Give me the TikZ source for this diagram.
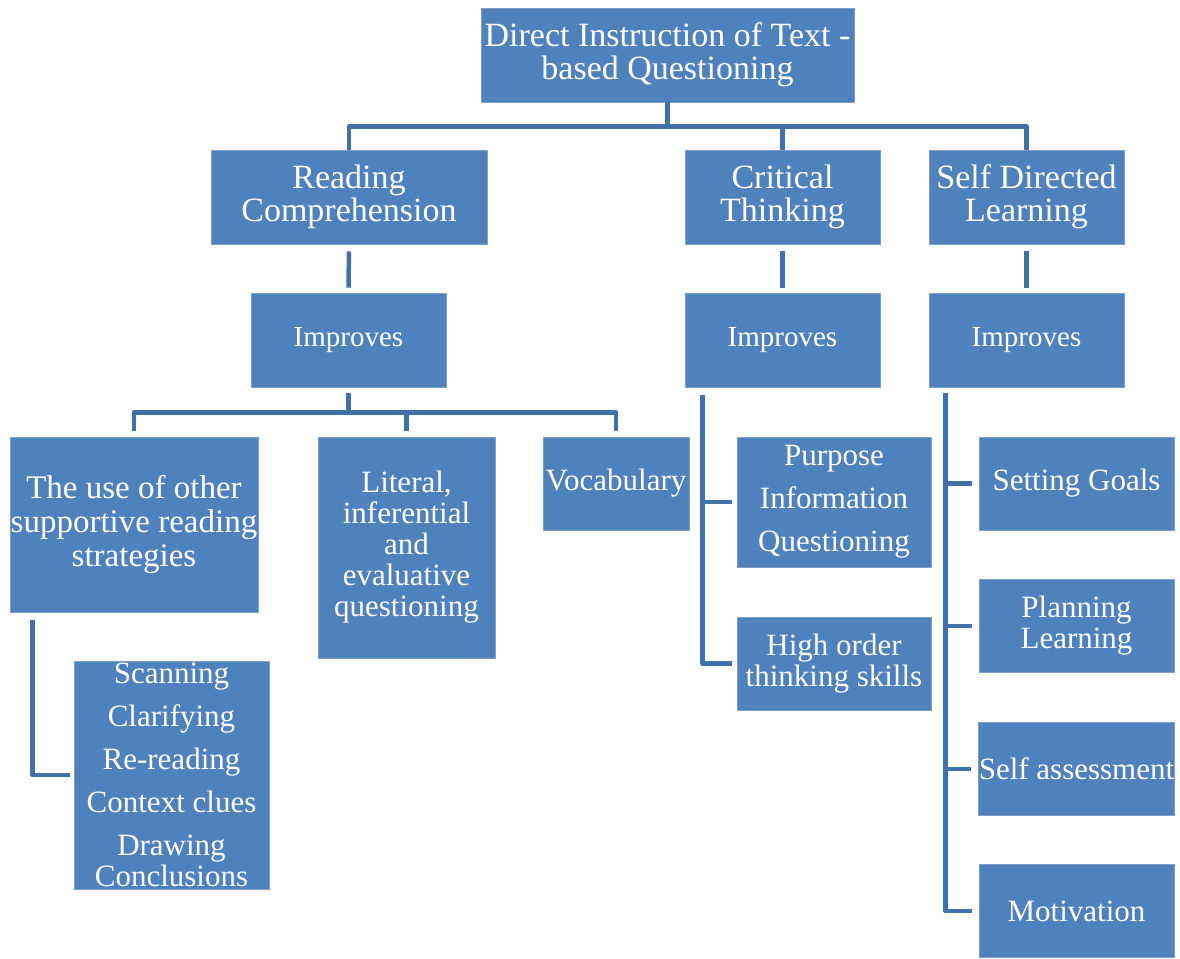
\documentclass[tikz,border=0pt]{standalone}
\usepackage{fontspec}
\setmainfont{Liberation Serif}
\definecolor{boxblue}{RGB}{79,129,189}
\definecolor{boxedge}{RGB}{125,160,205}
\definecolor{linkblue}{RGB}{66,112,168}
\tikzset{
  box/.style={rectangle, fill=boxblue, draw=boxedge, line width=0.8pt, text=white, align=center, inner sep=0pt},
  big/.style={font=\fontsize{34}{33}\selectfont},
  mid/.style={font=\fontsize{31}{31}\selectfont},
  small/.style={font=\fontsize{29}{29}\selectfont},
  link/.style={draw=linkblue, line width=4.5pt, line join=round}
}
\begin{document}
\begin{tikzpicture}[x=1pt,y=-1pt]
\useasboundingbox (0,0) rectangle (1180,958);
% level 0
\node[box,big,minimum width=373pt,minimum height=94pt] (top) at (667.5,55) {Direct Instruction of Text -\\based Questioning};
% level 1
\node[box,big,minimum width=276pt,minimum height=94pt] (rc) at (349,197) {Reading\\Comprehension};
\node[box,big,minimum width=195pt,minimum height=94pt] (ct) at (782.5,197) {Critical\\Thinking};
\node[box,big,minimum width=195pt,minimum height=94pt] (sdl) at (1026.5,197) {Self Directed\\Learning};
% improves
\node[box,small,minimum width=195pt,minimum height=94pt] (rcimp) at (348.5,340) {Improves};
\node[box,small,minimum width=195pt,minimum height=94pt] (ctimp) at (782.5,340) {Improves};
\node[box,small,minimum width=195pt,minimum height=94pt] (sdlimp) at (1026.5,340) {Improves};
% RC children
\node[box,minimum width=248pt,minimum height=175pt,font=\fontsize{33}{34}\selectfont] (use) at (134,524.5) {The use of other\\supportive reading\\strategies};
\node[box,mid,minimum width=177pt,minimum height=221pt] (lit) at (406.5,547.5) {Literal,\\inferential\\and\\evaluative\\questioning};
\node[box,mid,minimum width=146pt,minimum height=93pt] (voc) at (616,483.5) {Vocabulary};
\node[box,mid,minimum width=195pt,minimum height=228pt] (scan) at (171.5,775) {Scanning\\[12pt]Clarifying\\[12pt]Re-reading\\[12pt]Context clues\\[12pt]Drawing\\Conclusions};
% CT children
\node[box,mid,minimum width=194pt,minimum height=130pt] (purp) at (834,502) {Purpose\\[12pt]Information\\[12pt]Questioning};
\node[box,mid,minimum width=194pt,minimum height=93pt] (high) at (834,663.5) {High order\\thinking skills};
% SDL children
\node[box,mid,minimum width=195pt,minimum height=93pt] (sg) at (1076.5,483.5) {Setting Goals};
\node[box,mid,minimum width=195pt,minimum height=93pt] (pl) at (1076.5,626) {Planning\\Learning};
\node[box,mid,minimum width=195pt,minimum height=93pt] (sa) at (1076.5,769) {Self assessment};
\node[box,mid,minimum width=195pt,minimum height=93pt] (mo) at (1076.5,911) {Motivation};
% connectors
\draw[link] (top.south) -- ++(0,24) -| (rc.north);
\draw[link] (top.south) -- ++(0,24) -| (ct.north);
\draw[link] (top.south) -- ++(0,24) -| (sdl.north);
\draw[link,shorten <=7pt,shorten >=5pt] (rc.south) -- (rcimp.north);
\draw[link,shorten <=7pt,shorten >=5pt] (ct.south) -- (ctimp.north);
\draw[link,shorten <=7pt,shorten >=5pt] (sdl.south) -- (sdlimp.north);
\draw[link] ([yshift=-6pt]rcimp.south) -- ++(0,19) -| ([yshift=6pt]use.north);
\draw[link] ([yshift=-6pt]rcimp.south) -- ++(0,19) -| ([yshift=6pt]lit.north);
\draw[link] ([yshift=-6pt]rcimp.south) -- ++(0,19) -| ([yshift=6pt]voc.north);
\draw[link] ([xshift=23pt,yshift=-8pt]use.south west) |- ([xshift=-4pt]scan.west);
\draw[link] ([xshift=18pt,yshift=-8pt]ctimp.south west) |- ([xshift=-5pt]high.west);
\draw[link] ([xshift=18pt,yshift=-8pt]ctimp.south west) |- ([xshift=-5pt]purp.west);
\draw[link] ([xshift=17pt,yshift=-6pt]sdlimp.south west) |- ([xshift=-7pt]mo.west);
\draw[link] ([xshift=17pt,yshift=-6pt]sdlimp.south west) |- ([xshift=-7pt]sg.west);
\draw[link] ([xshift=17pt,yshift=-6pt]sdlimp.south west) |- ([xshift=-7pt]pl.west);
\draw[link] ([xshift=17pt,yshift=-6pt]sdlimp.south west) |- ([xshift=-7pt]sa.west);
\end{tikzpicture}
\end{document}
